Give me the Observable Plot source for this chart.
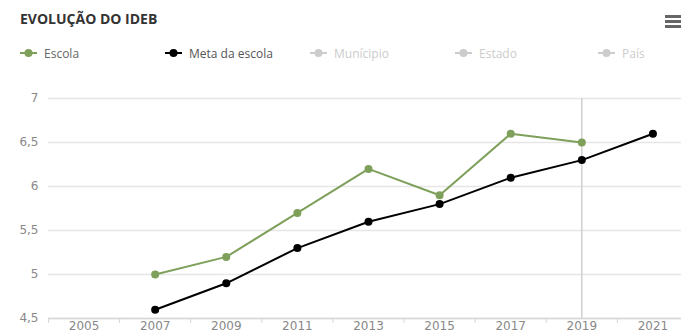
<!DOCTYPE html>
<html><head><meta charset="utf-8">
<script src="https://cdn.jsdelivr.net/npm/d3@7"></script>
<script src="https://cdn.jsdelivr.net/npm/@observablehq/plot@0.6"></script>
<style>
body{margin:0;background:#fff;overflow:hidden;font-family:"Open Sans",sans-serif}
#wrap{position:relative;width:681px;height:336px;overflow:hidden}
#title{position:absolute;left:20px;top:10px;font-weight:700;font-size:14px;color:#333;line-height:18px}
#menu{position:absolute;left:665px;top:15px;width:16px}
#menu div{height:2.5px;background:#666;margin-bottom:2.5px}
.item{position:absolute;top:45px;display:flex;align-items:center;font-size:12px;height:16px}
.item span{margin-left:7px}
#chart{position:absolute;top:70px;left:0}
</style></head>
<body><div id="wrap">
<div id="title">EVOLUÇÃO DO IDEB</div>
<div id="menu"><div></div><div></div><div></div></div>
<div id="legend"></div>
<div id="chart"></div>
</div>
<script>
const years = [2005, 2007, 2009, 2011, 2013, 2015, 2017, 2019, 2021];
const escola = [null, 5.0, 5.2, 5.7, 6.2, 5.9, 6.6, 6.5, null];
const metaEscola = [null, 4.6, 4.9, 5.3, 5.6, 5.8, 6.1, 6.3, 6.6];
const yTicks = [4.5, 5, 5.5, 6, 6.5, 7];
const yTickLabels = ["4,5", "5", "5,5", "6", "6,5", "7"];
const boundaryYears = [2004, 2006, 2008, 2010, 2012, 2014, 2016, 2018, 2020];
const highlightYear = [2019];
const legendNames = ["Escola", "Meta da escola", "Munícipio", "Estado", "País"];
const legendColors = ["#7ea05a", "#000000", "#cccccc", "#cccccc", "#cccccc"];
const legendTextColors = ["#666666", "#555555", "#cccccc", "#cccccc", "#cccccc"];
const legendLeft = [20, 165, 310, 455, 598];

const escolaRows = years.map((x, i) => ({x, y: escola[i]})).filter(d => d.y != null);
const metaRows = years.map((x, i) => ({x, y: metaEscola[i]})).filter(d => d.y != null);

// legend
const legend = document.getElementById("legend");
legendNames.forEach((name, i) => {
  const it = document.createElement("div");
  it.className = "item";
  it.style.left = legendLeft[i] + "px";
  it.innerHTML = `<svg width="17" height="16"><line x1="0" x2="17" y1="8" y2="8" stroke="${legendColors[i]}" stroke-width="2"/><circle cx="8.5" cy="8" r="4" fill="${legendColors[i]}"/></svg><span style="color:${legendTextColors[i]}">${name}</span>`;
  legend.appendChild(it);
});

const green = legendColors[0];
const chart = Plot.plot({
  width: 681,
  height: 266,
  marginLeft: 48,
  marginRight: 0,
  marginTop: 28,
  marginBottom: 18,
  x: {domain: [2004, 2022], range: [48, 688], label: null},
  y: {domain: [4.5, 7], label: null},
  style: {fontFamily: "DejaVu Sans", fontSize: "12px", color: "#666", overflow: "hidden"},
  marks: [
    Plot.ruleY(yTicks, {stroke: "#e6e6e6", strokeWidth: 1.5}),
    Plot.ruleY([4.5], {stroke: "#d6d6d6", strokeWidth: 1.5}),
    Plot.ruleX(highlightYear, {y1: 4.5, y2: 7, stroke: "#d0d0d0", strokeWidth: 1.5}),
    Plot.axisY({ticks: yTicks, tickSize: 0, tickPadding: 10, label: null, tickFormat: d => yTickLabels[yTicks.indexOf(d)], fill: "#888"}),
    Plot.axisX({ticks: boundaryYears, tickSize: 5, label: null, tickFormat: () => "", stroke: "#d6d6d6"}),
    Plot.axisX({ticks: years, tickSize: 0, tickPadding: 3, label: null, tickFormat: d => String(d), fill: "#888"}),
    Plot.line(escolaRows, {x: "x", y: "y", stroke: green, strokeWidth: 2}),
    Plot.dot(escolaRows, {x: "x", y: "y", r: 4, fill: green}),
    Plot.line(metaRows, {x: "x", y: "y", stroke: "#000", strokeWidth: 2}),
    Plot.dot(metaRows, {x: "x", y: "y", r: 4, fill: "#000"})
  ]
});
document.getElementById("chart").appendChild(chart);
</script>
</body></html>
